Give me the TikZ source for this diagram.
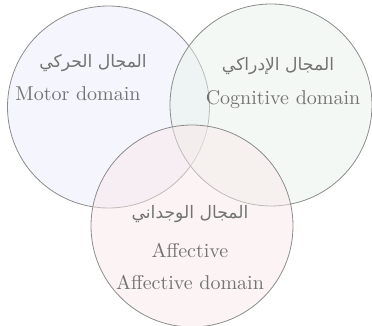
\documentclass[tikz,border=0pt]{standalone}
\usepackage{fontspec}
\usepackage{tikz}
\newfontfamily\arabicfont[Script=Arabic,Scale=0.86]{DejaVu Sans}
\TeXXeTstate=1
\definecolor{motorfill}{RGB}{235,235,251}
\definecolor{cogfill}{RGB}{233,241,233}
\definecolor{afffill}{RGB}{249,233,233}

\begin{document}
\begin{tikzpicture}[
    x=0.5pt, y=0.5pt,
    area circle/.style={circle, draw=gray!90, line width=0.4pt, fill opacity=0.5, minimum size=101pt},
    label text/.style={text=gray!90!black, font=\normalsize}
]
    % Three overlapping domains:
    % motor (left), cognitive (right), affective (bottom).
    \useasboundingbox (0,0) rectangle (372,326);
    \node[area circle, fill=motorfill] (motor) at (108.5,219) {};
    \node[area circle, fill=cogfill] (cognitive) at (271,221) {};
    \node[area circle, fill=afffill] (affective) at (192,100) {};

    % labels, Arabic title above the English one
    \node[label text] (motorAr) at (93,263) {\arabicfont\beginR المجال الحركي\endR};
    \node[label text] (motorEn) at (78,232) {Motor domain};
    \node[label text] (cogAr) at (278,260) {\arabicfont\beginR المجال الإدراكي\endR};
    \node[label text] (cogEn) at (283,226) {Cognitive domain};
    \node[label text] (affAr) at (190,112) {\arabicfont\beginR المجال الوجداني\endR};
    \node[label text] (affShort) at (190,76) {Affective};
    \node[label text] (affEn) at (190,44) {Affective domain};
\end{tikzpicture}
\end{document}
